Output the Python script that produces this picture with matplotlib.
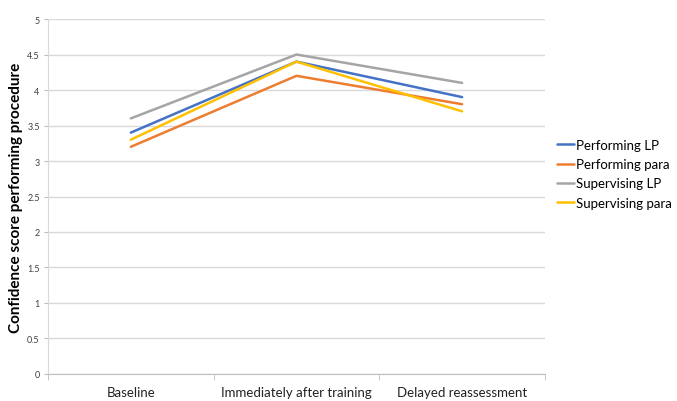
import numpy as np
import matplotlib.pyplot as plt

plt.rcParams['font.family'] = ['Lato', 'DejaVu Sans']

categories = ['Baseline', 'Immediately after training', 'Delayed reassessment']
series_names = ['Performing LP', 'Performing para', 'Supervising LP', 'Supervising para']
performing_lp = [3.4, 4.4, 3.9]
performing_para = [3.2, 4.2, 3.8]
supervising_lp = [3.6, 4.5, 4.1]
supervising_para = [3.3, 4.4, 3.7]
yticks = [0, 0.5, 1, 1.5, 2, 2.5, 3, 3.5, 4, 4.5, 5]

colors = ['#4472C4', '#ED7D31', '#A5A5A5', '#FFC000']

fig = plt.figure(figsize=(6.77, 4.02), dpi=100)
ax = fig.add_axes([0.0709, 0.0672, 0.734, 0.883])

x = np.arange(len(categories))
for vals, name, c in zip([performing_lp, performing_para, supervising_lp, supervising_para],
                         series_names, colors):
    ax.plot(x, vals, color=c, lw=1.8, label=name, solid_capstyle='round')

ax.set_xlim(-0.5, 2.5)
ax.set_ylim(0, 5)
ax.set_yticks(yticks)
ax.set_yticklabels([f'{v:g}' for v in yticks], fontsize=6.5, color='#404040')
ax.yaxis.grid(True, color='#D9D9D9', lw=1)
ax.set_axisbelow(True)

ax.set_xticks(x)
ax.set_xticklabels(categories, fontsize=9.5, color='#222222')
ax.set_xticks([-0.5, 0.5, 1.5, 2.5], minor=True)
ax.tick_params(axis='x', which='major', length=0, pad=9)
ax.tick_params(axis='x', which='minor', length=4, color='#BFBFBF', direction='out')
ax.tick_params(axis='y', length=3, color='#BFBFBF', pad=3)

for s in ['top', 'right']:
    ax.spines[s].set_visible(False)
ax.spines['left'].set_color('#D9D9D9')
ax.spines['bottom'].set_color('#BFBFBF')

fig.text(16 / 677, 0.5087, 'Confidence score performing procedure', rotation=90,
         ha='center', va='center', fontsize=11, fontweight='bold')

fig.legend(loc='upper left', bbox_to_anchor=(0.815, 0.665), frameon=False, fontsize=9.5,
           handlelength=1.3, handletextpad=0.15, labelspacing=0.55, borderaxespad=0)

plt.savefig('out.png', dpi=100)
